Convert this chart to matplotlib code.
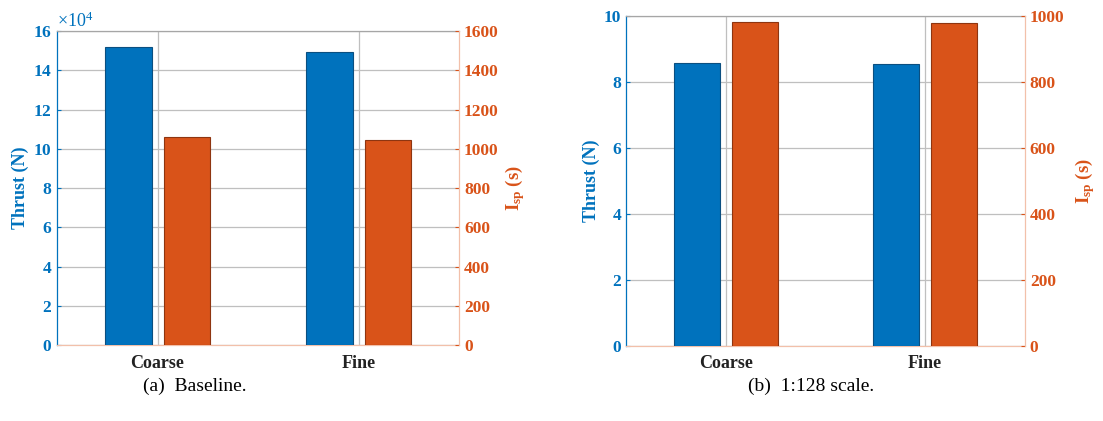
import matplotlib
matplotlib.use("Agg")
import matplotlib.pyplot as plt
from matplotlib.ticker import ScalarFormatter, MultipleLocator

plt.rcParams["font.family"] = ["Liberation Serif", "DejaVu Serif"]
plt.rcParams["mathtext.fontset"] = "custom"
plt.rcParams["mathtext.rm"] = "Liberation Serif"
plt.rcParams["mathtext.it"] = "Liberation Serif:italic"
plt.rcParams["mathtext.bf"] = "Liberation Serif:bold"

categories = ["Coarse", "Fine"]

# (a) Baseline
thrust_base = [152000, 149500]
isp_base = [1060, 1045]

# (b) 1:128 scale
thrust_scaled = [8.58, 8.55]
isp_scaled = [982, 978]

BLUE = "#0072BD"
ORANGE = "#D95319"
BLUE_EDGE = "#0B4F80"
ORANGE_EDGE = "#8E3510"
GRID = "#BFBFBF"

fig = plt.figure(figsize=(11.03, 4.21), dpi=100)

panels = [
    dict(rect=[0.0517, 0.1805, 0.3645, 0.7455], thrust=thrust_base, isp=isp_base,
         tlim=(0, 160000), tstep=20000, ilim=(0, 1600), istep=200,
         caption="(a)  Baseline.", cx=0.177, sci=True, pad_r=3),
    dict(rect=[0.5675, 0.179, 0.3617, 0.783], thrust=thrust_scaled, isp=isp_scaled,
         tlim=(0, 10), tstep=2, ilim=(0, 1000), istep=200,
         caption="(b)  1:128 scale.", cx=0.735, sci=False, pad_r=6),
]

x = [1, 2]
off = 0.145
width = 0.23
TICK_FS = 12.5

for p in panels:
    ax = fig.add_axes(p["rect"])
    ax2 = ax.twinx()

    ax.bar([v - off for v in x], p["thrust"], width=width, color=BLUE,
           edgecolor=BLUE_EDGE, linewidth=0.8, zorder=3)
    ax2.bar([v + off for v in x], p["isp"], width=width, color=ORANGE,
            edgecolor=ORANGE_EDGE, linewidth=0.8, zorder=3)

    ax.set_xlim(0.5, 2.5)
    ax.set_ylim(*p["tlim"])
    ax2.set_ylim(*p["ilim"])
    ax.yaxis.set_major_locator(MultipleLocator(p["tstep"]))
    ax2.yaxis.set_major_locator(MultipleLocator(p["istep"]))

    ax.set_xticks(x)
    ax.set_xticklabels(categories, fontsize=13, fontweight="bold", color="#222222")
    ax.tick_params(axis="x", length=0, pad=7)

    ax.grid(True, color=GRID, linewidth=0.9, zorder=0)
    ax.set_axisbelow(True)

    ax.tick_params(axis="y", colors=BLUE, labelsize=TICK_FS, direction="in", length=3)
    ax2.tick_params(axis="y", colors=ORANGE, labelsize=TICK_FS, direction="in", length=3)
    for lbl in ax.get_yticklabels() + ax2.get_yticklabels():
        lbl.set_fontweight("bold")

    if p["sci"]:
        fmt = ScalarFormatter(useMathText=True)
        fmt.set_powerlimits((4, 4))
        ax.yaxis.set_major_formatter(fmt)
        ot = ax.yaxis.get_offset_text()
        ot.set_color(BLUE)
        ot.set_fontsize(13)

    ax.set_ylabel("Thrust (N)", color=BLUE, fontsize=13, fontweight="bold", labelpad=3)
    ax2.set_ylabel(r"$\mathbf{I_{sp}}$ (s)", color=ORANGE, fontsize=13.5,
                   fontweight="bold", rotation=90, labelpad=p["pad_r"])

    ax.spines["left"].set_color(BLUE)
    ax.spines["right"].set_visible(False)
    ax.spines["top"].set_color("#A6A6A6")
    ax.spines["bottom"].set_color("#F2C0AA")
    ax2.spines["right"].set_color("#F2C0AA")
    ax2.spines["left"].set_visible(False)
    ax2.spines["top"].set_visible(False)
    ax2.spines["bottom"].set_visible(False)
    for s in ("left", "top", "bottom"):
        ax.spines[s].set_linewidth(0.9)
    ax2.spines["right"].set_linewidth(0.9)

    fig.text(p["cx"], 0.083, p["caption"], ha="center", va="center", fontsize=14)

fig.savefig("out.png", dpi=100, facecolor="white")
